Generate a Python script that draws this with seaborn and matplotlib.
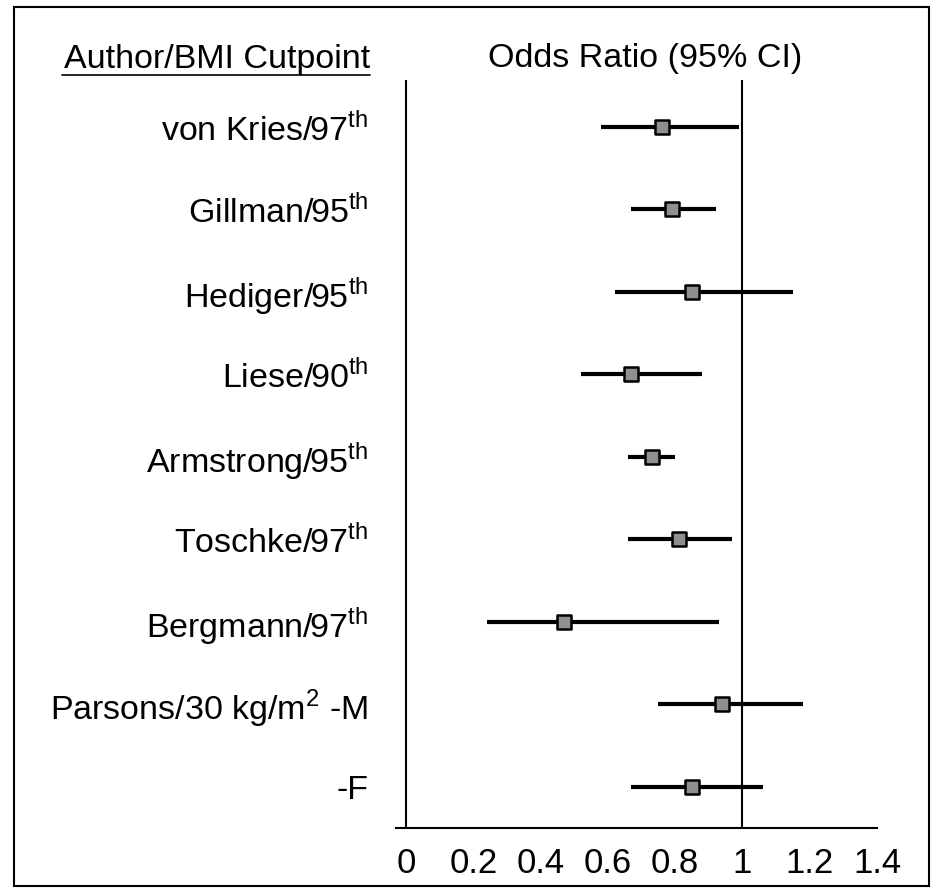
import numpy as np
import pandas as pd
import seaborn as sns
import matplotlib.pyplot as plt
from matplotlib.lines import Line2D
from matplotlib.patches import Rectangle

# study rows, top to bottom
labels = ['von Kries/97$^{\\mathrm{th}}$', 'Gillman/95$^{\\mathrm{th}}$', 'Hediger/95$^{\\mathrm{th}}$',
          'Liese/90$^{\\mathrm{th}}$', 'Armstrong/95$^{\\mathrm{th}}$', 'Toschke/97$^{\\mathrm{th}}$',
          'Bergmann/97$^{\\mathrm{th}}$', 'Parsons/30 kg/m$^{\\mathrm{2}}$ -M', '-F']
odds_ratio = [0.76, 0.79, 0.85, 0.67, 0.73, 0.81, 0.47, 0.94, 0.85]
ci_low = [0.58, 0.67, 0.62, 0.52, 0.66, 0.66, 0.24, 0.75, 0.67]
ci_high = [0.99, 0.92, 1.15, 0.88, 0.80, 0.97, 0.93, 1.18, 1.06]
x_ticks = [0, 0.2, 0.4, 0.6, 0.8, 1, 1.2, 1.4]
x_tick_labels = ['0', '0.2', '0.4', '0.6', '0.8', '1', '1.2', '1.4']

sns.set_style('white')
plt.rcParams['font.family'] = ['Liberation Sans', 'DejaVu Sans']
plt.rcParams['mathtext.fontset'] = 'custom'
plt.rcParams['mathtext.rm'] = 'Liberation Sans'
# plain black text like the original
for key in ['text.color', 'xtick.color', 'ytick.color', 'axes.labelcolor']:
    plt.rcParams[key] = 'black'


def forest(ax, df):
    # confidence interval bars
    ax.hlines(df['row'], df['ci_low'], df['ci_high'], color='black', lw=3, zorder=2)
    # point estimates as grey squares
    sns.scatterplot(data=df, x='odds_ratio', y='row', marker='s', s=110, color='#8f8f8f',
                    edgecolor='black', linewidth=1.8, zorder=3, ax=ax, legend=False)
    # reference lines at 0 and 1
    ax.axvline(0, color='black', lw=1.5, zorder=1)
    ax.axvline(1, color='black', lw=1.5, zorder=1)

    ax.set_xlim(-0.03, 1.4)
    ax.set_ylim(len(df) - 0.5, -0.57)
    ax.set_xticks(x_ticks)
    ax.set_xticklabels(x_tick_labels, fontsize=25)
    ax.set_yticks(df['row'])
    ax.set_yticklabels(df['label'], fontsize=24.5)
    ax.tick_params(axis='y', length=0, pad=20)
    ax.tick_params(axis='x', direction='inout', length=14, width=1.5, pad=7)
    ax.set_xlabel('')
    ax.set_ylabel('')
    for side in ['top', 'right', 'left']:
        ax.spines[side].set_visible(False)
    ax.spines['bottom'].set_linewidth(1.5)
    ax.spines['bottom'].set_color('black')


def main():
    df = pd.DataFrame({'label': labels, 'odds_ratio': odds_ratio,
                       'ci_low': ci_low, 'ci_high': ci_high})
    df['row'] = np.arange(len(df))

    fig = plt.figure(figsize=(9.38, 8.93), dpi=100)
    ax = fig.add_axes([0.4222, 0.0728, 0.5128, 0.8376])
    forest(ax, df)

    # column headers
    fig.text(370 / 938, 1 - 68 / 893, 'Author/BMI Cutpoint', ha='right', va='baseline', fontsize=24.5)
    fig.add_artist(Line2D([62 / 938, 370 / 938], [1 - 75 / 893, 1 - 75 / 893], color='black', lw=1.2))
    fig.text(645 / 938, 1 - 67 / 893, 'Odds Ratio (95% CI)', ha='center', va='baseline', fontsize=24.5)

    # frame around the whole figure
    fig.add_artist(Rectangle((14 / 938, 7 / 893), 915 / 938, 879 / 893, transform=fig.transFigure,
                             fill=False, edgecolor='black', lw=1.5))

    plt.savefig('out.png', dpi=100)


main()
